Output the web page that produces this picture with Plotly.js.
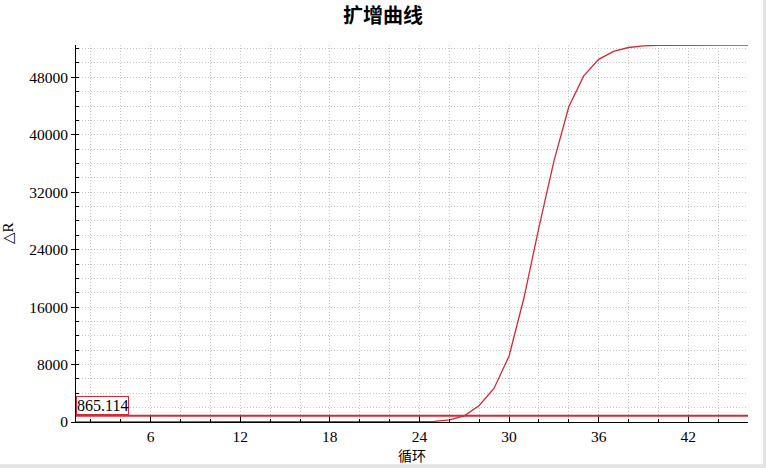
<!DOCTYPE html>
<html>
<head>
<meta charset="utf-8">
<script src="https://cdn.plot.ly/plotly-3.0.1.min.js"></script>
<style>
  html, body { margin: 0; padding: 0; background: #fff; }
  #chart { width: 766px; height: 468px; }
</style>
</head>
<body>
<div id="chart"></div>
<script>
// amplification data
const cycles = [];
for (let c = 1; c <= 46; c++) cycles.push(c);

const deltaR = [
  0, 0, 0, 0, 0, 0, 0, 0, 0, 0,
  0, 0, 0, 0, 0, 0, 0, 0, 0, 0,
  0, 0, 0, 0, 80, 300, 850, 2300, 4700, 9200,
  17300, 27100, 36300, 43900, 48200, 50500, 51600, 52150, 52380, 52450,
  52480, 52490, 52500, 52500, 52500, 52500
];

const threshold = 865.114;

const titleText = "扩增曲线";
const xTitle = "循环";
const yTitle = "△R";

const red = "#d42a35";
const gridCol = "#c4c4c4";
const tickFont = { family: "Liberation Serif, serif", size: 15.5, color: "#000" };

const trace = {
  x: cycles,
  y: deltaR,
  type: "scatter",
  mode: "lines",
  line: { color: red, width: 1.3 },
  hoverinfo: "x+y",
  showlegend: false
};

const layout = {
  width: 766,
  height: 468,
  margin: { l: 76, r: 18, t: 45, b: 46 },
  paper_bgcolor: "#fff",
  plot_bgcolor: "#fff",
  title: {
    text: titleText,
    font: { family: "Noto Sans CJK SC, sans-serif", size: 20, weight: 700, color: "#000" },
    x: 0.5, xref: "container",
    y: 0.965, yref: "container", yanchor: "middle"
  },
  xaxis: {
    range: [1, 46],
    tick0: 0, dtick: 6,
    ticks: "inside", ticklen: 6, tickcolor: "#000",
    showline: true, linecolor: "#000", linewidth: 1,
    showgrid: true, gridcolor: gridCol, griddash: "1px,2px",
    zeroline: false,
    tickfont: tickFont,
    minor: { dtick: 2, tick0: 0, ticks: "inside", ticklen: 3, tickcolor: "#000",
             showgrid: true, gridcolor: gridCol, griddash: "1px,2px" },
    title: { text: xTitle, font: { family: "Noto Sans CJK SC, sans-serif", size: 14, color: "#000" }, standoff: 0 }
  },
  yaxis: {
    range: [0, 52500],
    tick0: 0, dtick: 8000,
    tickformat: "d",
    ticks: "outside", ticklen: 4, tickcolor: "#000",
    showline: true, linecolor: "#000", linewidth: 1,
    showgrid: true, gridcolor: gridCol, griddash: "1px,2px",
    zeroline: false,
    tickfont: tickFont,
    minor: { dtick: 2000, tick0: 0, ticks: "inside", ticklen: 3, tickcolor: "#000",
             showgrid: true, gridcolor: gridCol, griddash: "1px,2px" },
    title: { text: yTitle, font: { family: "Liberation Serif, serif", size: 15, color: "#000" }, standoff: 15 }
  },
  shapes: [
    { type: "line", xref: "paper", x0: 0, x1: 1, yref: "y", y0: threshold, y1: threshold,
      line: { color: red, width: 2 } },
    // window edges
    { type: "rect", xref: "paper", x0: 1.0223, x1: 1.03, yref: "paper", y0: -0.13, y1: 1.13,
      fillcolor: "#e3e3e3", line: { width: 0 } },
    { type: "rect", xref: "paper", x0: -0.12, x1: 1.03, yref: "paper", y0: -0.13, y1: -0.112,
      fillcolor: "#e3e3e3", line: { width: 0 } }
  ],
  annotations: [
    { text: threshold.toFixed(3), xref: "paper", x: 0, xanchor: "left",
      yref: "y", y: threshold, yanchor: "bottom", yshift: 1,
      showarrow: false, font: { family: "Liberation Serif, serif", size: 16, color: "#000" },
      bgcolor: "#fff", bordercolor: red, borderwidth: 1, borderpad: 0 }
  ]
};

Plotly.newPlot("chart", [trace], layout, { displayModeBar: false, staticPlot: true });
</script>
</body>
</html>
